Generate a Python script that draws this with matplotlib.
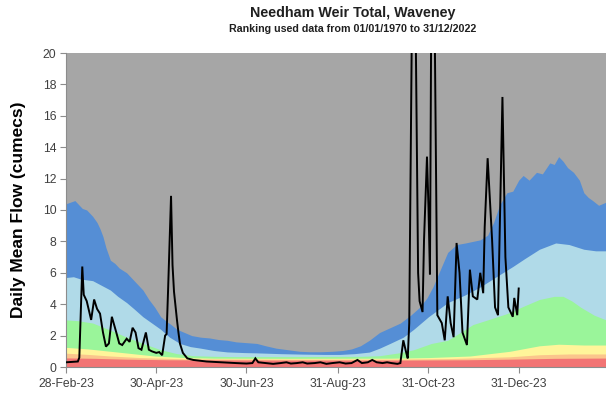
import numpy as np
import matplotlib
matplotlib.use("Agg")
import matplotlib.pyplot as plt
import matplotlib.dates as mdates

plt.rcParams['font.family'] = ['Liberation Sans', 'DejaVu Sans']

START = np.datetime64('2023-02-28')
END = np.datetime64('2024-02-28')

# Historical flow-duration bands (upper edge of each band, cumecs), by day offset from START
blue_days = [0, 3, 6, 8, 11, 14, 18, 21, 23, 25, 27, 30, 33, 36, 41, 45, 48, 52, 56, 60, 64, 68, 71,
             75, 80, 85, 91, 97, 103, 109, 115, 122, 129, 135, 142, 150, 158, 165, 172, 180, 187,
             193, 199, 205, 212, 219, 226, 233, 239, 244, 248, 253, 258, 264, 270, 275, 280, 285,
             289, 293, 298, 302, 306, 309, 313, 318, 322, 327, 330, 333, 336, 339, 343, 347, 350,
             353, 356, 360, 365]
blue_top = [10.4, 10.5, 10.6, 10.4, 10.1, 10.0, 9.6, 9.2, 8.8, 8.3, 7.6, 6.8, 6.6, 6.3, 6.0, 5.6,
            5.3, 4.9, 4.3, 3.8, 3.2, 2.9, 2.7, 2.4, 2.2, 2.0, 1.9, 1.85, 1.75, 1.7, 1.6, 1.55, 1.5,
            1.35, 1.2, 1.1, 1.0, 0.97, 0.97, 1.0, 1.05, 1.15, 1.35, 1.7, 2.2, 2.5, 2.8, 3.3, 3.8,
            4.4, 5.1, 6.2, 7.3, 7.8, 7.9, 8.0, 8.1, 8.4, 9.2, 10.3, 11.1, 11.2, 11.9, 12.2, 11.9,
            12.4, 12.3, 13.0, 12.9, 13.4, 13.1, 12.7, 12.4, 11.9, 11.1, 10.8, 10.6, 10.3, 10.5]

lblue_days = [0, 5, 10, 18, 24, 30, 35, 41, 46, 52, 58, 64, 70, 77, 84, 91, 100, 109, 120, 129,
              145, 160, 175, 185, 195, 205, 212, 219, 228, 235, 245, 258, 270, 280, 290, 302, 310,
              320, 331, 340, 350, 358, 365]
lblue_top = [5.7, 5.75, 5.6, 5.5, 5.2, 4.9, 4.5, 4.1, 3.7, 3.2, 2.8, 2.4, 1.9, 1.5, 1.3, 1.2, 1.05,
             0.96, 0.92, 0.9, 0.85, 0.82, 0.8, 0.8, 0.85, 0.95, 1.2, 1.5, 1.9, 2.4, 3.2, 4.1, 4.6,
             5.1, 5.7, 6.4, 6.9, 7.5, 7.9, 7.8, 7.5, 7.4, 7.4]

green_days = [0, 8, 18, 30, 41, 52, 64, 75, 86, 100, 115, 150, 200, 212, 225, 235, 247, 258, 270,
              275, 285, 298, 310, 320, 330, 336, 342, 348, 357, 365]
green_top = [3.0, 2.95, 2.8, 2.35, 1.9, 1.5, 1.1, 0.85, 0.72, 0.68, 0.66, 0.66, 0.68, 0.72, 0.9,
             1.1, 1.5, 1.7, 2.4, 2.7, 3.0, 3.4, 3.9, 4.3, 4.5, 4.5, 4.2, 3.8, 3.3, 3.0]

yellow_days = [0, 15, 30, 45, 60, 80, 100, 150, 220, 245, 273, 300, 320, 333, 350, 365]
yellow_top = [1.25, 1.15, 1.0, 0.85, 0.7, 0.6, 0.56, 0.55, 0.56, 0.6, 0.7, 1.0, 1.35, 1.45, 1.4, 1.4]

orange_days = [0, 15, 30, 50, 80, 150, 220, 260, 300, 320, 340, 365]
orange_top = [0.88, 0.8, 0.7, 0.6, 0.52, 0.5, 0.5, 0.54, 0.65, 0.78, 0.83, 0.83]

red_days = [0, 20, 40, 70, 150, 220, 270, 300, 330, 365]
red_top = [0.58, 0.55, 0.5, 0.46, 0.44, 0.44, 0.46, 0.5, 0.55, 0.57]

# Observed daily mean flow, 2023 (cumecs)
flow_days = [0, 8, 9, 11, 12, 14, 17, 19, 21, 23, 25, 27, 29, 31, 34, 36, 38, 41, 43, 45, 47, 49,
             51, 54, 56, 58, 61, 63, 65, 67, 68, 69, 71, 72, 73, 75, 76, 77, 79, 82, 86, 95, 105,
             115, 122, 126, 128, 130, 135, 140, 145, 149, 152, 156, 160, 163, 168, 172, 176, 180,
             185, 189, 193, 197, 200, 204, 207, 210, 214, 217, 220, 224, 226, 228, 230, 231, 232,
             234, 235, 236, 238, 239, 241, 242, 244, 245, 246, 247, 248, 249, 251, 254, 256, 258,
             260, 262, 264, 266, 268, 271, 273, 275, 278, 280, 282, 283, 285, 288, 290, 292, 295,
             297, 299, 302, 303, 305, 306]
flow = [0.3, 0.35, 0.6, 6.4, 4.6, 4.2, 3.0, 4.3, 3.7, 3.4, 2.2, 1.3, 1.5, 3.2, 2.2, 1.5, 1.4, 1.8,
        1.6, 2.5, 2.2, 1.2, 1.1, 2.2, 1.1, 1.0, 0.9, 0.95, 0.75, 2.0, 2.1, 4.9, 10.9, 6.5, 4.8,
        3.0, 2.2, 1.5, 0.9, 0.55, 0.45, 0.35, 0.3, 0.25, 0.22, 0.25, 0.55, 0.3, 0.25, 0.2, 0.25,
        0.3, 0.22, 0.25, 0.3, 0.22, 0.25, 0.3, 0.2, 0.25, 0.3, 0.22, 0.25, 0.45, 0.25, 0.3, 0.45,
        0.3, 0.25, 0.3, 0.25, 0.2, 0.25, 1.7, 0.9, 0.55, 2.8, 24.0, 30.0, 25.0, 6.0, 4.2, 3.5, 8.1,
        13.4, 10.2, 5.9, 25.0, 32.0, 24.0, 3.3, 2.8, 1.7, 4.5, 2.8, 1.9, 7.9, 6.0, 2.2, 1.4, 6.2,
        4.5, 4.3, 6.0, 4.7, 8.9, 13.3, 8.1, 3.8, 3.3, 17.2, 7.0, 3.8, 3.2, 4.4, 3.3, 5.0]

y_ticks = [0, 2, 4, 6, 8, 10, 12, 14, 16, 18, 20]
x_tick_dates = ['2023-02-28', '2023-04-30', '2023-06-30', '2023-08-31', '2023-10-31', '2023-12-31']

band_colors = {
    'above': '#A6A6A6',
    'blue': '#558ED5',
    'lblue': '#B0DAE8',
    'green': '#9AF59A',
    'yellow': '#FFF59A',
    'orange': '#FBC58C',
    'red': '#F27474',
}


def to_dates(days):
    return START + np.array(days, dtype='timedelta64[D]')


fig = plt.figure(figsize=(6.06, 3.96), dpi=100)
ax = fig.add_axes([66 / 606, 1 - 367 / 396, 540 / 606, 314 / 396])
ax.set_facecolor(band_colors['above'])

bands = [
    (blue_days, blue_top, 'blue'),
    (lblue_days, lblue_top, 'lblue'),
    (green_days, green_top, 'green'),
    (yellow_days, yellow_top, 'yellow'),
    (orange_days, orange_top, 'orange'),
    (red_days, red_top, 'red'),
]
for days, top, key in bands:
    ax.fill_between(to_dates(days), 0, top, color=band_colors[key], linewidth=0, zorder=1)

ax.plot(to_dates(flow_days), flow, color='black', linewidth=1.4, zorder=3,
        solid_joinstyle='miter')

ax.set_xlim(START, END)
ax.set_ylim(0, 20)
ax.set_yticks(y_ticks)
ax.set_xticks([np.datetime64(d) for d in x_tick_dates])
ax.xaxis.set_major_formatter(mdates.DateFormatter('%d-%b-%y'))

for side in ('top', 'right'):
    ax.spines[side].set_visible(False)
for side in ('left', 'bottom'):
    ax.spines[side].set_color('#8C8C8C')
    ax.spines[side].set_linewidth(0.8)
ax.tick_params(axis='both', direction='out', length=4, width=0.8, color='#8C8C8C',
               labelsize=8.7, labelcolor='#404040')
ax.tick_params(axis='y', pad=3)
ax.tick_params(axis='x', pad=4)

ax.set_ylabel('Daily Mean Flow (cumecs)', fontsize=12.5, fontweight='bold')
ax.yaxis.set_label_coords(-0.074, 0.5)

fig.text(353 / 606, 1 - 13 / 396, 'Needham Weir Total, Waveney', ha='center', va='center',
         fontsize=10.3, fontweight='bold', color='#202020')
fig.text(353 / 606, 1 - 29 / 396, 'Ranking used data from 01/01/1970 to 31/12/2022',
         ha='center', va='center', fontsize=7.7, fontweight='bold', color='#202020')

fig.savefig('out.png', dpi=100)
